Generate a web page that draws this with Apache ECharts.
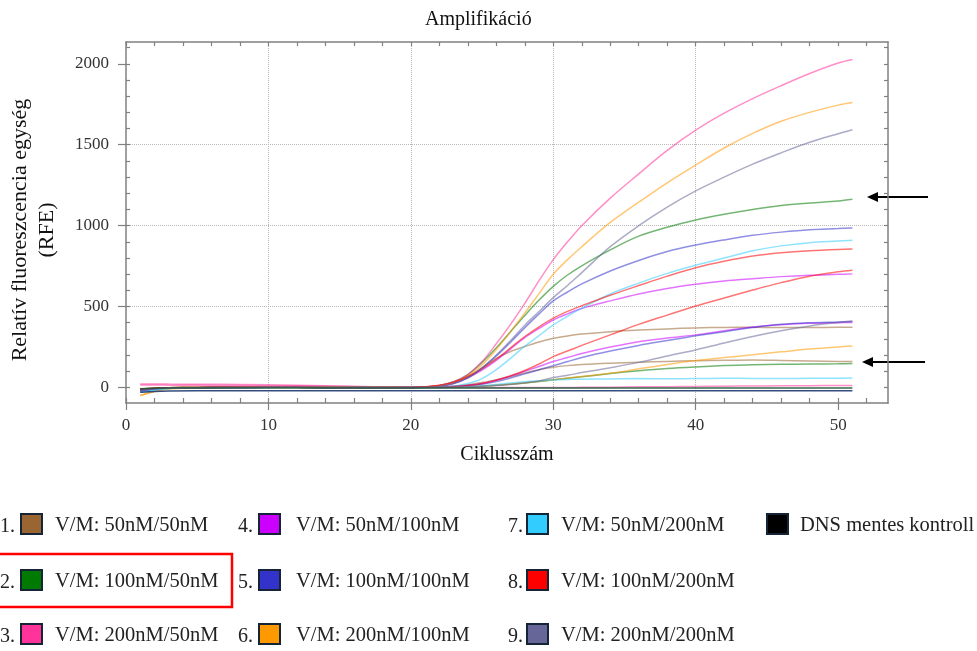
<!DOCTYPE html>
<html>
<head>
<meta charset="utf-8">
<script src="https://cdn.jsdelivr.net/npm/echarts@6.0.0/dist/echarts.min.js"></script>
<style>
  html, body { margin: 0; padding: 0; background: #fff; }
  #chart { width: 977px; height: 651px; }
</style>
</head>
<body>
<div id="chart"></div>
<script>
// ciklusok (mintavételi pontok)
const cycles = [1, 2, 3, 5, 8, 12, 16, 20, 21, 22, 23, 24, 25, 26, 27, 28, 29, 30, 31, 32, 34, 36, 38, 40, 42, 44, 46, 48, 50, 51]

// RFE értékek, leolvasva
const s1a = [-10, -5, -2, 0, 1, 1, 0, 0, 3, 10, 28, 68, 122, 180, 222, 253, 281, 304, 318, 330, 345, 355, 362, 368, 371, 372, 370, 370, 372, 372]
const s1b = [-10, -5, -2, 0, 1, 1, 0, 0, 1, 3, 8, 17, 30, 48, 68, 90, 110, 125, 135, 142, 150, 156, 161, 165, 168, 169, 167, 164, 161, 160]
const s2a = [-10, -5, -2, 0, 1, 1, 0, 0, 3, 12, 35, 80, 155, 245, 345, 445, 540, 625, 695, 752, 850, 935, 990, 1035, 1070, 1100, 1125, 1140, 1152, 1163]
const s2b = [-10, -5, -2, 0, 1, 1, 0, 0, 0, 1, 2, 4, 8, 13, 20, 28, 37, 47, 57, 66, 86, 103, 117, 127, 135, 140, 143, 145, 146, 148]
const s3a = [22, 22, 21, 20, 19, 14, 7, 0, 3, 12, 35, 80, 160, 270, 390, 520, 660, 790, 900, 1000, 1170, 1320, 1465, 1590, 1695, 1785, 1865, 1940, 2005, 2027]
const s3b = [15, 15, 14, 13, 12, 10, 5, 0, 0, 0, 0, 0, 0, 0, 0, 0, 0, 0, 0, 1, 2, 4, 5, 6, 8, 9, 10, 11, 12, 12]
const s4a = [-20, -10, -4, -1, 0, 1, 0, 0, 3, 11, 28, 60, 108, 168, 238, 308, 365, 417, 455, 488, 535, 578, 612, 638, 658, 672, 685, 694, 699, 702]
const s4b = [-20, -10, -4, -1, 0, 1, 0, 0, 1, 3, 7, 13, 25, 45, 70, 100, 130, 160, 185, 210, 250, 283, 305, 325, 350, 374, 388, 397, 400, 402]
const s5a = [-20, -10, -4, -1, 0, 1, 0, 0, 2, 8, 25, 60, 120, 195, 280, 370, 455, 535, 590, 640, 720, 785, 840, 880, 912, 940, 960, 975, 982, 986]
const s5b = [-20, -10, -4, -1, 0, 1, 0, 0, 1, 2, 6, 11, 20, 36, 58, 84, 110, 134, 160, 185, 225, 260, 290, 319, 345, 370, 390, 400, 405, 408]
const s6a = [-50, -25, -8, -2, 2, 3, 2, 0, 2, 10, 30, 70, 140, 235, 345, 460, 580, 700, 790, 870, 1020, 1145, 1265, 1375, 1480, 1570, 1645, 1700, 1745, 1761]
const s6b = [-50, -25, -8, -2, 2, 3, 2, 0, 0, 1, 2, 4, 8, 14, 21, 29, 38, 48, 58, 68, 88, 115, 142, 166, 185, 202, 220, 237, 250, 257]
const s7a = [-30, -15, -6, -2, 0, 1, 0, 0, 0, 2, 8, 25, 55, 110, 180, 255, 320, 387, 440, 490, 578, 645, 705, 755, 800, 845, 875, 895, 905, 910]
const s7b = [-30, -15, -6, -2, 0, 1, 0, 0, 0, 0, 1, 4, 10, 18, 27, 35, 41, 46, 49, 51, 53, 55, 54, 55, 57, 56, 55, 57, 57, 58]
const s8a = [-10, -5, -2, 0, 1, 1, 0, 0, 4, 14, 33, 68, 115, 175, 245, 315, 375, 428, 470, 505, 570, 630, 688, 740, 780, 812, 832, 845, 853, 855]
const s8b = [-10, -5, -2, 0, 1, 1, 0, 0, 1, 2, 5, 12, 25, 45, 72, 105, 145, 191, 225, 260, 325, 390, 447, 503, 553, 602, 648, 688, 715, 725]
const s9a = [-20, -10, -4, -1, 1, 2, 1, 0, 2, 8, 25, 60, 120, 200, 290, 385, 470, 555, 630, 710, 870, 1000, 1115, 1215, 1300, 1380, 1450, 1515, 1568, 1593]
const s9b = [-20, -10, -4, -1, 0, 1, 0, 0, 0, 0, 2, 4, 7, 12, 19, 28, 40, 62, 75, 92, 122, 155, 195, 232, 275, 315, 350, 380, 402, 411]
const ntcA = [-8, -5, -4, -3, -3, -3, -3, -3, -3, -3, -3, -3, -3, -3, -3, -3, -3, -3, -3, -3, -3, -3, -3, -3, -3, -3, -3, -3, -3, -3]
const ntcB = [-30, -25, -22, -21, -21, -21, -21, -21, -21, -21, -21, -21, -21, -21, -21, -21, -21, -21, -21, -21, -21, -21, -21, -21, -21, -21, -21, -21, -21, -21]

// tengely beosztások
const xTicks = [0, 10, 20, 30, 40, 50]
const xMinor = [0, 2, 4, 6, 8, 10, 12, 14, 16, 18, 20, 22, 24, 26, 28, 30, 32, 34, 36, 38, 40, 42, 44, 46, 48, 50, 52]
const yTicks = [0, 500, 1000, 1500, 2000]
const yMinor = [0, 100, 200, 300, 400, 500, 600, 700, 800, 900, 1000, 1100, 1200, 1300, 1400, 1500, 1600, 1700, 1800, 1900, 2000, 2100]

// jelmagyarázat
const legendNames = ['V/M: 50nM/50nM', 'V/M: 100nM/50nM', 'V/M: 200nM/50nM', 'V/M: 50nM/100nM', 'V/M: 100nM/100nM',
  'V/M: 200nM/100nM', 'V/M: 50nM/200nM', 'V/M: 100nM/200nM', 'V/M: 200nM/200nM', 'DNS mentes kontroll']
const legendNums = ['1.', '2.', '3.', '4.', '5.', '6.', '7.', '8.', '9.', '']
const legendColors = ['#996633', '#007A00', '#FF3399', '#CC00FF', '#3333CC', '#FF9900', '#33CCFF', '#FF0000', '#666699', '#000000']

const seriesList = [
  { data: s1a, color: 0 }, { data: s1b, color: 0 },
  { data: s2a, color: 1 }, { data: s2b, color: 1 },
  { data: s3a, color: 2 }, { data: s3b, color: 2 },
  { data: s4a, color: 3 }, { data: s4b, color: 3 },
  { data: s5a, color: 4 }, { data: s5b, color: 4 },
  { data: s6a, color: 5 }, { data: s6b, color: 5 },
  { data: s7a, color: 6 }, { data: s7b, color: 6 },
  { data: s8a, color: 7 }, { data: s8b, color: 7 },
  { data: s9a, color: 8 }, { data: s9b, color: 8 }
]

const font = 'Liberation Serif'
const gray = '#808080'

const chart = echarts.init(document.getElementById('chart'), null, { renderer: 'canvas' })

function pairs(vals) {
  return cycles.map((c, i) => [c, vals[i]])
}

const series = seriesList.map(s => ({
  name: legendNames[s.color],
  type: 'line',
  data: pairs(s.data),
  showSymbol: false,
  smooth: 0.35,
  lineStyle: { width: 1.5, color: legendColors[s.color], opacity: 0.55 },
  silent: true
}))
series.push(
  { name: 'ntc1', type: 'line', data: pairs(ntcA), showSymbol: false, lineStyle: { width: 1.5, color: '#1E5A3C', opacity: 0.9 } },
  { name: 'ntc2', type: 'line', data: pairs(ntcB), showSymbol: false, lineStyle: { width: 1.5, color: '#1F3A70', opacity: 0.9 } }
)

// jelmagyarázat grafikája
const colX = [{ num: 15, box: 21, text: 55 }, { num: 253, box: 259, text: 296 }, { num: 523, box: 527, text: 561 }, { num: 0, box: 767, text: 800 }]
const rowY = [524, 580, 634]
const legendGraphic = []
legendNames.forEach((name, i) => {
  const col = i < 9 ? Math.floor(i / 3) : 3
  const row = i < 9 ? i % 3 : 0
  const cx = colX[col]
  const y = rowY[row]
  if (legendNums[i]) {
    legendGraphic.push({ type: 'text', x: cx.num, y: y + 3, style: { text: legendNums[i], font: '20px "' + font + '"', fill: '#222', align: 'right', verticalAlign: 'middle' } })
  }
  legendGraphic.push({ type: 'rect', shape: { x: cx.box, y: y - 10, width: 21, height: 20 }, style: { fill: legendColors[i], stroke: '#152535', lineWidth: 2 } })
  legendGraphic.push({ type: 'text', x: cx.text, y: y + 2, style: { text: name, font: '20.5px "' + font + '"', fill: '#222', verticalAlign: 'middle' } })
})
legendGraphic.push({ type: 'rect', shape: { x: -3, y: 554, width: 235, height: 53 }, style: { fill: 'none', stroke: '#FF0000', lineWidth: 2.5 } })

// nyilak
function arrow(y, tip, tail) {
  return [
    { type: 'line', shape: { x1: tip + 9, y1: y, x2: tail, y2: y }, style: { stroke: '#000', lineWidth: 2.2 } },
    { type: 'polygon', shape: { points: [[tip, y], [tip + 11, y - 5], [tip + 11, y + 5]] }, style: { fill: '#000' } }
  ]
}

const baseX = {
  type: 'value', min: 0, max: 53.5,
  axisLine: { show: false, onZero: false },
  axisLabel: { show: false },
  splitLine: { show: false }
}
const baseY = {
  type: 'value', min: -96, max: 2135,
  axisLine: { show: false, onZero: false },
  axisLabel: { show: false },
  splitLine: { show: false }
}
const frameLine = { show: true, onZero: false, lineStyle: { color: gray, width: 1.5 } }
const tickStyle = { color: gray, width: 1.2 }
const plain = v => String(v)

const option = {
  animation: false,
  title: {
    text: 'Amplifikáció',
    left: 420, top: 5,
    textStyle: { fontFamily: font, fontSize: 20, fontWeight: 'normal', color: '#111' }
  },
  grid: { left: 126, top: 42, width: 762, height: 361, outerBoundsMode: 'none' },
  xAxis: [
    {
      ...baseX, position: 'bottom',
      name: 'Ciklusszám', nameLocation: 'middle', nameGap: 42,
      nameTextStyle: { fontFamily: font, fontSize: 20, color: '#111' },
      axisLine: frameLine,
      axisTick: { show: true, length: 7, customValues: xTicks, lineStyle: tickStyle },
      axisLabel: { show: true, customValues: xTicks, formatter: plain, margin: 14, fontFamily: font, fontSize: 17, color: '#333' },
      splitLine: { show: true, showMinLine: false, showMaxLine: false, lineStyle: { type: 'dotted', color: '#b8b8b8', width: 1 } }
    },
    { ...baseX, position: 'bottom', axisTick: { show: true, inside: true, length: 5, customValues: xMinor, lineStyle: tickStyle } },
    { ...baseX, position: 'top', axisLine: frameLine, axisTick: { show: true, inside: true, length: 4, customValues: xMinor, lineStyle: tickStyle } }
  ],
  yAxis: [
    {
      ...baseY, position: 'left',
      name: 'Relatív fluoreszcencia egység\n(RFE)', nameLocation: 'middle', nameGap: 65, nameRotate: 90,
      nameTextStyle: { fontFamily: font, fontSize: 22, lineHeight: 27, color: '#111', padding: [0, 15, 0, 0] },
      axisLine: frameLine,
      axisTick: { show: true, length: 8, customValues: yTicks, lineStyle: tickStyle },
      axisLabel: { show: true, customValues: yTicks, formatter: plain, margin: 17, fontFamily: font, fontSize: 17, color: '#333' },
      splitLine: { show: true, showMinLine: false, showMaxLine: false, lineStyle: { type: 'dotted', color: '#b8b8b8', width: 1 } }
    },
    { ...baseY, position: 'left', axisTick: { show: true, inside: true, length: 4, customValues: yMinor, lineStyle: tickStyle } },
    { ...baseY, position: 'right', axisLine: frameLine, axisTick: { show: true, inside: true, length: 4, customValues: yMinor, lineStyle: tickStyle } }
  ],
  series: series,
  graphic: legendGraphic.concat(arrow(197, 867, 928), arrow(362, 862, 925))
}

chart.setOption(option)
</script>
</body>
</html>
